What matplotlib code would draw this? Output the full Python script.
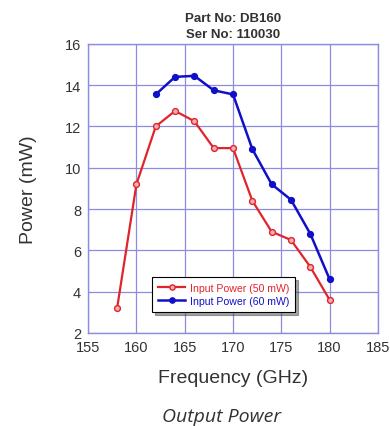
import matplotlib
matplotlib.use("Agg")
import matplotlib.pyplot as plt

plt.rcParams["font.family"] = ["Liberation Sans", "DejaVu Sans"]

# data
freq_50 = [158, 160, 162, 164, 166, 168, 170, 172, 174, 176, 178, 180]
power_50 = [3.2, 9.2, 12.0, 12.75, 12.25, 10.95, 10.95, 8.4, 6.9, 6.5, 5.2, 3.6]
freq_60 = [162, 164, 166, 168, 170, 172, 174, 176, 178, 180]
power_60 = [13.55, 14.4, 14.45, 13.75, 13.55, 10.9, 9.2, 8.45, 6.8, 4.6]

x_ticks = [155, 160, 165, 170, 175, 180, 185]
y_ticks = [2, 4, 6, 8, 10, 12, 14, 16]

RED = "#e0242c"
BLUE = "#1010c8"
GRID = "#8c8ce0"
TXT = "#333333"

fig = plt.figure(figsize=(3.9, 4.27), dpi=100)
ax = fig.add_axes([0.226, 0.218, 0.743, 0.677])

ax.plot(freq_50, power_50, "-o", color=RED, lw=1.6, ms=4.2,
        mfc="#f4b0b0", mec=RED, mew=1.0, label="Input Power (50 mW)")
ax.plot(freq_60, power_60, "-o", color=BLUE, lw=1.8, ms=4.2,
        mfc=BLUE, mec=BLUE, label="Input Power (60 mW)")

ax.set_xlim(155, 185)
ax.set_ylim(2, 16)
ax.set_xticks(x_ticks)
ax.set_yticks(y_ticks)
ax.grid(True, color=GRID, lw=0.9)
ax.set_axisbelow(True)
for s in ax.spines.values():
    s.set_color(GRID)
    s.set_linewidth(1.0)
ax.tick_params(axis="x", length=0, labelsize=10.5, colors=TXT, pad=5)
ax.tick_params(axis="y", length=0, labelsize=10.5, colors=TXT, pad=5)

ax.set_xlabel("Frequency (GHz)", fontsize=14, color=TXT, labelpad=11)
ax.set_ylabel("Power (mW)", fontsize=14, color=TXT, labelpad=20)
ax.set_title("Part No: DB160\nSer No: 110030", fontsize=9.5, fontweight="bold",
             color=TXT, pad=5, linespacing=1.45)

leg = ax.legend(loc="lower left", bbox_to_anchor=(0.203, 0.055), fontsize=7.6,
                frameon=True, fancybox=False, shadow=True, borderpad=0.55,
                handlelength=2.6, handletextpad=0.4, labelspacing=0.3,
                markerscale=0.9)
leg.get_frame().set_edgecolor("black")
leg.get_frame().set_linewidth(0.8)
for txt, col in zip(leg.get_texts(), [RED, BLUE]):
    txt.set_color(col)

fig.text(0.567, 0.012, "Output Power", fontsize=14, style="italic",
         color=TXT, ha="center", family=["Open Sans", "DejaVu Sans"])

fig.savefig("out.png", dpi=100)
